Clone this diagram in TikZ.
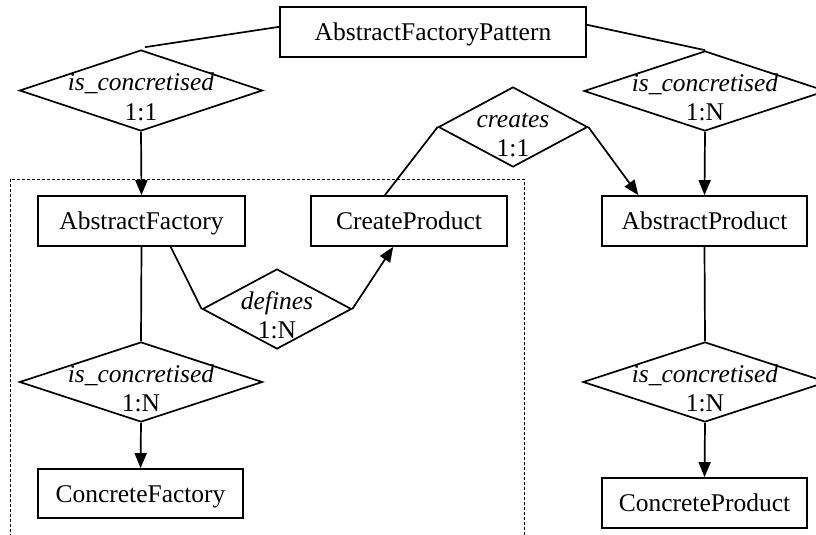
\documentclass[tikz,border=0pt]{standalone}
\usepackage{fontspec}
\setmainfont{Liberation Serif}
\usetikzlibrary{shapes.geometric,arrows.meta,calc}
\newcommand\rellab[2]{\makebox[0pt]{\raisebox{-29.5pt}[0pt][0pt]{\begin{tabular}[b]{@{}c@{}}\textit{#1}\\#2\end{tabular}}}}
\begin{document}
\begin{tikzpicture}[x=1pt,y=-1pt,
  every node/.style={font=\fontsize{25.5}{29.5}\selectfont},
  entity/.style={draw, line width=1.7pt, inner sep=0pt, minimum height=50pt, text height=18pt, text depth=1pt},
  rel/.style={draw, diamond, line width=1.7pt, inner sep=0pt, minimum height=80pt},
  conn/.style={line width=1.7pt},
  arr/.style={conn, -{Triangle[length=15pt,width=12pt]}},
  frame/.style={dash pattern=on 3pt off 2pt, line width=0.9pt}]
\useasboundingbox (0,0) rectangle (816,535);
% dashed frame
\draw[frame] (10,537) -- (10,179) -- (524,179) -- (524,537);
% entities
\node[entity, minimum width=306pt] (afp) at (433,32) {AbstractFactoryPattern};
\node[entity, minimum width=207pt] (af) at (141.5,221) {AbstractFactory};
\node[entity, minimum width=196pt] (cp) at (409,221) {CreateProduct};
\node[entity, minimum width=205pt] (ap) at (704.5,221) {AbstractProduct};
\node[entity, minimum width=205pt, minimum height=49pt] (cf) at (140.5,493.5) {ConcreteFactory};
\node[entity, minimum width=205pt] (cpr) at (704.5,503) {ConcreteProduct};
% relationships
\node[rel, minimum width=243pt, minimum height=81pt] (d1) at (141,90.5) {\rellab{is\_concretised}{1:1}};
\node[rel, minimum width=242pt] (d2) at (705,91) {\rellab{is\_concretised}{1:N}};
\node[rel, minimum width=149pt] (dc) at (513,127) {\rellab{creates}{1:1}};
\node[rel, minimum width=149pt] (dd) at (277,309) {\rellab{defines}{1:N}};
\node[rel, minimum width=243pt] (d3) at (141,382) {\rellab{is\_concretised}{1:N}};
\node[rel, minimum width=244pt] (d4) at (705,382) {\rellab{is\_concretised}{1:N}};
% connectors
\draw[conn] ($(afp.north west)!0.4!(afp.south west)$) -- ($(d1.north)+(4,-2)$);
\draw[conn] ($(afp.north east)!0.36!(afp.south east)$) -- (d2.north);
\draw[arr] (d1.south) -- (af.north);
\draw[arr] (d2.south) -- (ap.north);
\draw[conn] ($(cp.north west)!0.378!(cp.north east)$) -- (dc.west);
\draw[arr] (dc.east) -- ($(ap.north west)!0.18!(ap.north east)$);
\draw[conn] ($(af.south west)!0.64!(af.south east)$) -- (dd.west);
\draw[arr] (dd.east) -- ($(cp.south west)!0.42!(cp.south east)$);
\draw[conn] (af.south) -- (d3.north);
\draw[arr] (d3.south) -- (cf.north);
\draw[conn] (ap.south) -- (d4.north);
\draw[arr] (d4.south) -- (cpr.north);
\end{tikzpicture}
\end{document}
